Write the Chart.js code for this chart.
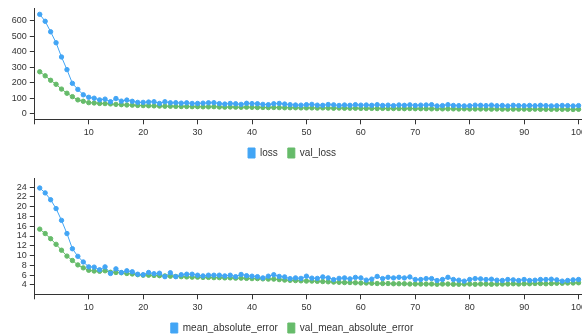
<!DOCTYPE html>
<html>
<head>
<meta charset="utf-8">
<script src="https://cdn.jsdelivr.net/npm/chart.js@4"></script>
<style>
  html, body { margin: 0; padding: 0; overflow: hidden; background: #fff; width: 582px; height: 334px; }
  #loss-chart { position: absolute; left: 0; top: 0; }
  #mae-chart { position: absolute; left: 0; top: 170px; }
</style>
</head>
<body>
<canvas id="loss-chart" width="600" height="168"></canvas>
<canvas id="mae-chart" width="600" height="173"></canvas>
<script>
// epochs 1..100
const epochs = Array.from({ length: 100 }, (_, i) => i + 1);

// tick labels
const epochTicks = [0, 10, 20, 30, 40, 50, 60, 70, 80, 90, 100];
const lossTicks = [0, 100, 200, 300, 400, 500, 600];
const maeTicks = [4, 6, 8, 10, 12, 14, 16, 18, 20, 22, 24];

const loss = [
  643, 598, 530, 459, 367, 285, 196, 157, 122, 106, 100, 89, 94, 77, 98, 81, 88, 80, 73, 73,
  75, 77, 66, 77, 70, 71, 68, 70, 66, 66, 68, 70, 71, 65, 62, 66, 64, 60, 67, 65,
  64, 60, 58, 64, 66, 62, 58, 56, 55, 58, 60, 55, 54, 59, 57, 53, 56, 54, 58, 55,
  56, 54, 58, 53, 55, 52, 56, 54, 57, 53, 55, 56, 58, 50, 52, 58, 53, 52, 50, 51,
  55, 54, 52, 55, 51, 53, 50, 54, 52, 51, 53, 51, 54, 52, 50, 51, 53, 52, 50, 52
];
const valLoss = [
  271, 245, 216, 190, 159, 132, 110, 89, 80, 71, 69, 66, 65, 63, 60, 58, 56, 55, 53, 52,
  51, 50, 49, 48, 48, 47, 46, 46, 45, 45, 44, 44, 45, 43, 42, 43, 42, 41, 42, 41,
  40, 40, 39, 40, 39, 38, 38, 38, 37, 37, 37, 36, 37, 36, 35, 36, 35, 35, 35, 34,
  34, 34, 33, 34, 33, 33, 33, 32, 33, 32, 32, 32, 31, 32, 31, 31, 31, 30, 31, 30,
  30, 30, 30, 29, 30, 29, 29, 29, 29, 29, 28, 29, 28, 28, 28, 28, 28, 28, 27, 28
];
const mae = [
  23.8, 22.8, 21.4, 19.6, 17.2, 14.5, 11.4, 9.85, 8.7, 7.7, 7.65, 7.1, 7.7, 6.35, 7.3, 6.55, 6.9, 6.7, 6.2, 6.1,
  6.55, 6.3, 6.4, 5.7, 6.5, 5.7, 6.1, 6.2, 6.2, 6.0, 5.85, 6.0, 6.0, 6.0, 5.85, 6.0, 5.7, 6.15, 5.9, 5.8,
  5.7, 5.45, 5.8, 6.1, 5.75, 5.65, 5.3, 5.45, 5.35, 5.8, 5.4, 5.35, 5.65, 5.45, 5.1, 5.35, 5.45, 5.25, 5.55, 5.45,
  5.0, 5.2, 5.75, 5.31, 5.57, 5.44, 5.57, 5.44, 5.64, 5.12, 5.12, 5.31, 5.31, 4.92, 5.12, 5.57, 5.12, 4.98, 4.79, 5.12,
  5.31, 5.25, 5.12, 5.18, 4.98, 4.92, 5.12, 5.05, 4.92, 5.12, 4.92, 4.98, 5.12, 5.12, 5.18, 5.05, 4.79, 4.92, 5.05, 5.12
];
const valMae = [
  15.4, 14.5, 13.45, 12.3, 11.1, 9.9, 9.0, 8.1, 7.5, 7.0, 6.85, 6.8, 6.9, 6.6, 6.55, 6.5, 6.35, 6.25, 6.1, 6.0,
  6.0, 5.95, 5.9, 5.85, 5.8, 5.75, 5.7, 5.65, 5.6, 5.6, 5.55, 5.55, 5.5, 5.5, 5.45, 5.45, 5.4, 5.4, 5.35, 5.3,
  5.3, 5.25, 5.2, 5.2, 5.1, 5.0, 4.95, 4.9, 4.85, 4.8, 4.8, 4.75, 4.7, 4.65, 4.6, 4.55, 4.5, 4.5, 4.45, 4.4,
  4.4, 4.35, 4.3, 4.3, 4.3, 4.25, 4.25, 4.25, 4.2, 4.2, 4.2, 4.2, 4.2, 4.15, 4.2, 4.2, 4.15, 4.15, 4.2, 4.2,
  4.15, 4.2, 4.2, 4.15, 4.2, 4.2, 4.2, 4.25, 4.2, 4.25, 4.25, 4.3, 4.3, 4.25, 4.3, 4.35, 4.35, 4.4, 4.4, 4.45
];

const blue = '#42a5f5';
const green = '#66bb6a';
const axisColor = '#333';

Chart.defaults.font.family = '"Liberation Sans", Arial, sans-serif';
Chart.defaults.font.size = 9;
Chart.defaults.color = '#333';

const series = (label, values, color) => ({
  label,
  data: values.map((v, i) => ({ x: epochs[i], y: v })),
  borderColor: color,
  backgroundColor: color,
  borderWidth: 1,
  pointRadius: 2.2,
  pointBorderWidth: 1,
  pointHoverRadius: 3,
  tension: 0
});

const makeChart = (id, datasets, yTicks, yMin, yMax, padTop) => {
  const ctx = document.getElementById(id).getContext('2d');
  return new Chart(ctx, {
    type: 'line',
    data: { datasets },
    options: {
      responsive: false,
      animation: false,
      layout: { padding: { top: padTop, right: 16, left: 0, bottom: 0 } },
      plugins: {
        legend: {
          position: 'bottom',
          labels: { boxWidth: 7, boxHeight: 10, padding: 10, font: { size: 10 } }
        },
        tooltip: { enabled: false }
      },
      scales: {
        x: {
          type: 'linear',
          min: 0,
          max: 101,
          afterBuildTicks: scale => {
            scale.ticks = epochTicks.map(v => ({ value: v }));
          },
          afterFit: scale => { scale.height = 18.7; },
          ticks: {
            autoSkip: false,
            maxRotation: 0,
            padding: 3,
            callback: v => (v === 0 ? '' : v)
          },
          grid: { drawOnChartArea: false, tickLength: 5, color: axisColor },
          border: { color: axisColor }
        },
        y: {
          min: yMin,
          max: yMax,
          afterBuildTicks: scale => {
            scale.ticks = yTicks.map(v => ({ value: v }));
          },
          afterFit: scale => { scale.width = 34.3; },
          ticks: { autoSkip: false, padding: 3 },
          grid: { drawOnChartArea: false, tickLength: 4.5, color: axisColor },
          border: { color: axisColor }
        }
      }
    }
  });
};

document.addEventListener('DOMContentLoaded', () => {
  makeChart('loss-chart', [series('loss', loss, blue), series('val_loss', valLoss, green)], lossTicks, -36.7, 681.5, 2);
  makeChart('mae-chart', [series('mean_absolute_error', mae, blue), series('val_mean_absolute_error', valMae, green)], maeTicks, 2.1, 25.76, 3.3);
});
</script>
</body>
</html>
